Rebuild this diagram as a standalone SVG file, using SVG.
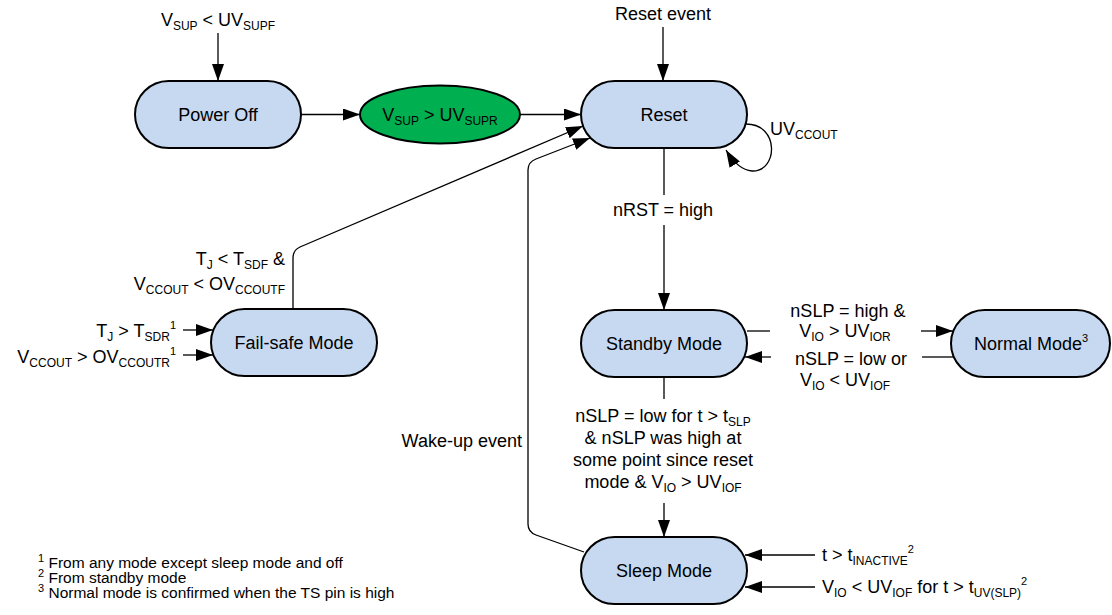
<svg xmlns="http://www.w3.org/2000/svg" width="1112" height="615" viewBox="0 0 1112 615">
<style>
.node{fill:#C6D9F1;stroke:#000;stroke-width:2}
.green{fill:#00B050;stroke:#000;stroke-width:2}
.t{font-family:"Liberation Sans",Arial,sans-serif;font-size:18px;fill:#000}
.fn{font-family:"Liberation Sans",Arial,sans-serif;font-size:15.5px;fill:#000}
.sub{font-size:12px}
.sup{font-size:11px}
.c{fill:none;stroke:#000;stroke-width:1.3}
.m{text-anchor:middle}
.e{text-anchor:end}
</style>
<defs>
<marker id="ah" markerUnits="userSpaceOnUse" markerWidth="17" markerHeight="12" refX="17" refY="6" orient="auto">
<path d="M0,0 L17,6 L0,12 z" fill="#000"/>
</marker>
</defs>
<rect width="1112" height="615" fill="#fff"/>
<g id="connectors">
<path class="c" d="M218 33 L218 81" marker-end="url(#ah)"/>
<path class="c" d="M301 114.5 L360 114.5" marker-end="url(#ah)"/>
<path class="c" d="M520 114.5 L581 114.5" marker-end="url(#ah)"/>
<path class="c" d="M663 27 L663 81" marker-end="url(#ah)"/>
<path class="c" d="M746 124 C780 124 778 172 752 171 C740 170 732 160 726 150" marker-end="url(#ah)"/>
<path class="c" d="M664 148 L664 195"/>
<path class="c" d="M664 225 L664 310" marker-end="url(#ah)"/>
<path class="c" d="M293 309 L293 258 Q293 250 300 247 L583 126" marker-end="url(#ah)"/>
<path class="c" d="M584 552 L536 535 Q528 532 528 524 L528 170 Q528 162 536 159 L590 138" marker-end="url(#ah)"/>
<path class="c" d="M747 331 L770 331"/>
<path class="c" d="M921 331 L953 331" marker-end="url(#ah)"/>
<path class="c" d="M771 357 L745 357" marker-end="url(#ah)"/>
<path class="c" d="M922 357 L953 357"/>
<path class="c" d="M664 377 L664 399"/>
<path class="c" d="M664 503 L664 537" marker-end="url(#ah)"/>
<path class="c" d="M183 330 L213 330" marker-end="url(#ah)"/>
<path class="c" d="M183 355 L213 355" marker-end="url(#ah)"/>
<path class="c" d="M815 555 L745 555" marker-end="url(#ah)"/>
<path class="c" d="M815 587 L745 587" marker-end="url(#ah)"/>
</g>
<g id="power-off">
<rect class="node" x="135" y="81" width="166" height="67" rx="33.5"/>
<text class="t m" x="218" y="121">Power Off</text>
</g>
<g id="vsup-ok">
<ellipse class="green" cx="440" cy="114.5" rx="80" ry="29"/>
<text class="t m" x="440" y="121">V<tspan class="sub" dy="4">SUP</tspan><tspan dy="-4"> &gt; UV</tspan><tspan class="sub" dy="4">SUPR</tspan></text>
</g>
<g id="reset">
<rect class="node" x="581" y="81" width="166" height="67" rx="33.5"/>
<text class="t m" x="664" y="121">Reset</text>
</g>
<g id="fail-safe">
<rect class="node" x="211" y="309" width="166" height="67" rx="33.5"/>
<text class="t m" x="294" y="349">Fail-safe Mode</text>
</g>
<g id="standby">
<rect class="node" x="581" y="310" width="166" height="67" rx="33.5"/>
<text class="t m" x="664" y="350">Standby Mode</text>
</g>
<g id="normal">
<rect class="node" x="951" y="310" width="159" height="67" rx="33.5"/>
<text class="t m" x="1031" y="350">Normal Mode<tspan class="sup" dy="-8">3</tspan></text>
</g>
<g id="sleep">
<rect class="node" x="581" y="537" width="166" height="67" rx="33.5"/>
<text class="t m" x="664" y="577">Sleep Mode</text>
</g>
<g id="labels">
<text class="t m" x="218" y="26">V<tspan class="sub" dy="4">SUP</tspan><tspan dy="-4"> &lt; UV</tspan><tspan class="sub" dy="4">SUPF</tspan></text>
<text class="t m" x="663" y="20">Reset event</text>
<text class="t" x="770" y="135">UV<tspan class="sub" dy="4">CCOUT</tspan></text>
<text class="t m" x="663" y="216">nRST = high</text>
<text class="t e" x="285" y="265">T<tspan class="sub" dy="4">J</tspan><tspan dy="-4"> &lt; T</tspan><tspan class="sub" dy="4">SDF</tspan><tspan dy="-4"> &amp;</tspan></text>
<text class="t e" x="285" y="290">V<tspan class="sub" dy="4">CCOUT</tspan><tspan dy="-4"> &lt; OV</tspan><tspan class="sub" dy="4">CCOUTF</tspan></text>
<text class="t e" x="176" y="337">T<tspan class="sub" dy="4">J</tspan><tspan dy="-4"> &gt; T</tspan><tspan class="sub" dy="4">SDR</tspan><tspan class="sup" dy="-12">1</tspan></text>
<text class="t e" x="176" y="363">V<tspan class="sub" dy="4">CCOUT</tspan><tspan dy="-4"> &gt; OV</tspan><tspan class="sub" dy="4">CCOUTR</tspan><tspan class="sup" dy="-12">1</tspan></text>
<text class="t m" x="848" y="317">nSLP = high &amp;</text>
<text class="t m" x="845" y="337">V<tspan class="sub" dy="4">IO</tspan><tspan dy="-4"> &gt; UV</tspan><tspan class="sub" dy="4">IOR</tspan></text>
<text class="t m" x="851" y="365">nSLP = low or</text>
<text class="t m" x="845" y="386">V<tspan class="sub" dy="4">IO</tspan><tspan dy="-4"> &lt; UV</tspan><tspan class="sub" dy="4">IOF</tspan></text>
<text class="t m" x="663" y="422">nSLP = low for t &gt; t<tspan class="sub" dy="4">SLP</tspan></text>
<text class="t m" x="663" y="444">&amp; nSLP was high at</text>
<text class="t m" x="663" y="466">some point since reset</text>
<text class="t m" x="663" y="488">mode &amp; V<tspan class="sub" dy="4">IO</tspan><tspan dy="-4"> &gt; UV</tspan><tspan class="sub" dy="4">IOF</tspan></text>
<text class="t e" x="522" y="447">Wake-up event</text>
<text class="t" x="822" y="561">t &gt; t<tspan class="sub" dy="4">INACTIVE</tspan><tspan class="sup" dy="-12">2</tspan></text>
<text class="t" x="822" y="593">V<tspan class="sub" dy="4">IO</tspan><tspan dy="-4"> &lt; UV</tspan><tspan class="sub" dy="4">IOF</tspan><tspan dy="-4"> for t &gt; t</tspan><tspan class="sub" dy="4">UV(SLP)</tspan><tspan class="sup" dy="-12">2</tspan></text>
</g>
<g id="footnotes">
<text class="fn" x="38" y="568"><tspan class="sup" dy="-6">1</tspan><tspan dy="6"> From any mode except sleep mode and off</tspan></text>
<text class="fn" x="38" y="583"><tspan class="sup" dy="-6">2</tspan><tspan dy="6"> From standby mode</tspan></text>
<text class="fn" x="38" y="598"><tspan class="sup" dy="-6">3</tspan><tspan dy="6"> Normal mode is confirmed when the TS pin is high</tspan></text>
</g>
</svg>
